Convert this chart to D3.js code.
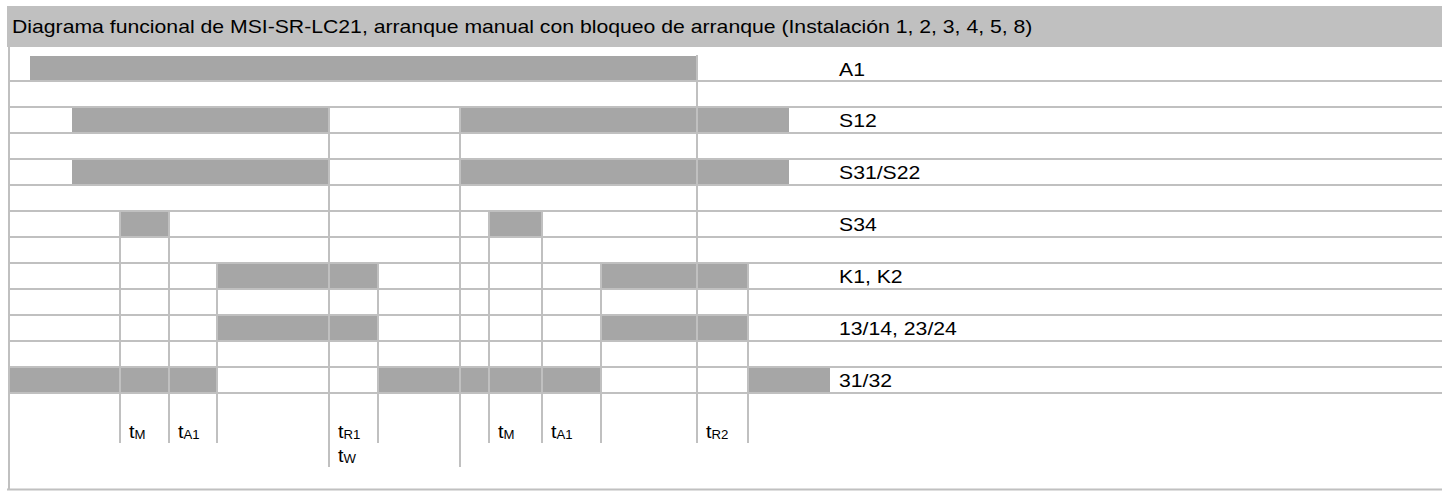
<!DOCTYPE html>
<html>
<head>
<meta charset="utf-8">
<script src="https://cdn.jsdelivr.net/npm/d3@7"></script>
<style>
  body { margin: 0; background: #fff; }
  text { font-family: "Liberation Sans", Arial, sans-serif; fill: #000; }
</style>
</head>
<body>
<div id="chart"></div>
<script>
//////////////////////////////////////////////////////////////////////////////
// Data: timing diagram, times in arbitrary units from the left edge

const title = "Diagrama funcional de MSI-SR-LC21, arranque manual con bloqueo de arranque (Instalación 1, 2, 3, 4, 5, 8)";

const rowLabels = ["A1", "", "S12", "", "S31/S22", "", "S34", "", "K1, K2", "", "13/14, 23/24", "", "31/32"];

// high-level intervals per row [start, end]
const rowBars = [
  [[21, 688]],
  [],
  [[63, 320], [451, 780]],
  [],
  [[63, 320], [451, 780]],
  [],
  [[111, 160], [480, 533]],
  [],
  [[208, 369], [592, 739]],
  [],
  [[208, 369], [592, 739]],
  [],
  [[0, 208], [369, 592], [739, 821]]
];

// cell borders per row
const allSteps = [111, 160, 208, 320, 369, 451, 480, 533, 592, 688, 739];
const rowDividers = [
  [688],
  [688],
  [320, 451, 688],
  [320, 451, 688],
  [320, 451, 688],
  [320, 451, 688],
  [111, 160, 320, 451, 480, 533, 688],
  [111, 160, 320, 451, 480, 533, 688],
  allSteps, allSteps, allSteps, allSteps, allSteps
];

// timing marks under the diagram
const shortMarks = [111, 160, 208, 369, 480, 533, 592, 688, 739];
const longMarks = [320, 451];
const timeLabelAt = [111, 160, 320, 480, 533, 688];
const timeLabelSubs = [["M"], ["A1"], ["R1", "W"], ["M"], ["A1"], ["R2"]];

const labelColumn = 830;

//////////////////////////////////////////////////////////////////////////////
// Canvas and scales

const width = 1442;
const height = 496;
const gridColor = "#c0c0c0";
const barColor = "#a6a6a6";
const stretch = 1.14;   // text in the original is a bit wide

const x = d3.scaleLinear()
    .domain([0, 1433])
    .range([9, 1442]);

const y = d3.scaleBand()
    .domain(d3.range(rowLabels.length))
    .range([55, 393]);

const svg = d3.select("#chart").append("svg")
    .attr("width", width)
    .attr("height", height);

// title band
svg.append("rect")
    .attr("x", 7)
    .attr("y", 6)
    .attr("width", width - 7)
    .attr("height", 41)
    .attr("fill", gridColor);

svg.append("text")
    .attr("transform", `translate(12,33) scale(${stretch},1)`)
    .style("font-size", "18.6px")
    .text(title);

//////////////////////////////////////////////////////////////////////////////
// Bars

const rows = svg.append("g")
    .selectAll("g")
    .data(rowLabels.map((label, i) => ({label, i, bars: rowBars[i], dividers: rowDividers[i]})))
    .join("g")
    .attr("transform", d => `translate(0,${y(d.i)})`);

rows.selectAll("rect")
    .data(d => d.bars)
    .join("rect")
    .attr("x", d => x(d[0]))
    .attr("y", 1)
    .attr("width", d => x(d[1]) - x(d[0]))
    .attr("height", y.bandwidth() - 2)
    .attr("fill", barColor);

// cell borders drawn over bars
rows.selectAll("line")
    .data(d => d.dividers)
    .join("line")
    .attr("x1", d => x(d))
    .attr("x2", d => x(d))
    .attr("y1", 0)
    .attr("y2", y.bandwidth())
    .attr("stroke", gridColor)
    .attr("stroke-width", 2);

rows.append("text")
    .attr("transform", d => `translate(${x(labelColumn)},${d.i === 0 ? 21 : 20}) scale(${stretch},1)`)
    .style("font-size", "18.6px")
    .text(d => d.label);

//////////////////////////////////////////////////////////////////////////////
// Horizontal rules and frame

const bottomRow = y.range()[1];

svg.append("g")
    .selectAll("line")
    .data(d3.range(1, rowLabels.length + 1))
    .join("line")
    .attr("x1", 8)
    .attr("x2", width)
    .attr("y1", i => i < rowLabels.length ? y(i) : bottomRow)
    .attr("y2", i => i < rowLabels.length ? y(i) : bottomRow)
    .attr("stroke", gridColor)
    .attr("stroke-width", 2);

svg.append("line")
    .attr("x1", x(0))
    .attr("x2", x(0))
    .attr("y1", 47)
    .attr("y2", 490)
    .attr("stroke", gridColor)
    .attr("stroke-width", 2);

svg.append("line")
    .attr("x1", 7)
    .attr("x2", width)
    .attr("y1", 489.5)
    .attr("y2", 489.5)
    .attr("stroke", gridColor)
    .attr("stroke-width", 2);

//////////////////////////////////////////////////////////////////////////////
// Timing marks and labels

svg.append("g")
    .selectAll("line")
    .data(shortMarks.map(t => [t, 443]).concat(longMarks.map(t => [t, 467])))
    .join("line")
    .attr("x1", d => x(d[0]))
    .attr("x2", d => x(d[0]))
    .attr("y1", bottomRow)
    .attr("y2", d => d[1])
    .attr("stroke", gridColor)
    .attr("stroke-width", 2);

const timeLabels = svg.append("g")
    .selectAll("g")
    .data(timeLabelAt.map((t, i) => ({t, subs: timeLabelSubs[i]})))
    .join("g")
    .attr("transform", d => `translate(${x(d.t) + 9},0)`);

timeLabels.selectAll("text")
    .data(d => d.subs)
    .join("text")
    .attr("transform", (d, k) => `translate(0,${437.5 + k * 24.5}) scale(1.1,1)`)
    .style("font-size", "18px")
    .call(t => t.append("tspan").text("t"))
    .call(t => t.append("tspan")
        .attr("dy", 1)
        .style("font-size", "12px")
        .text(d => d));
</script>
</body>
</html>
